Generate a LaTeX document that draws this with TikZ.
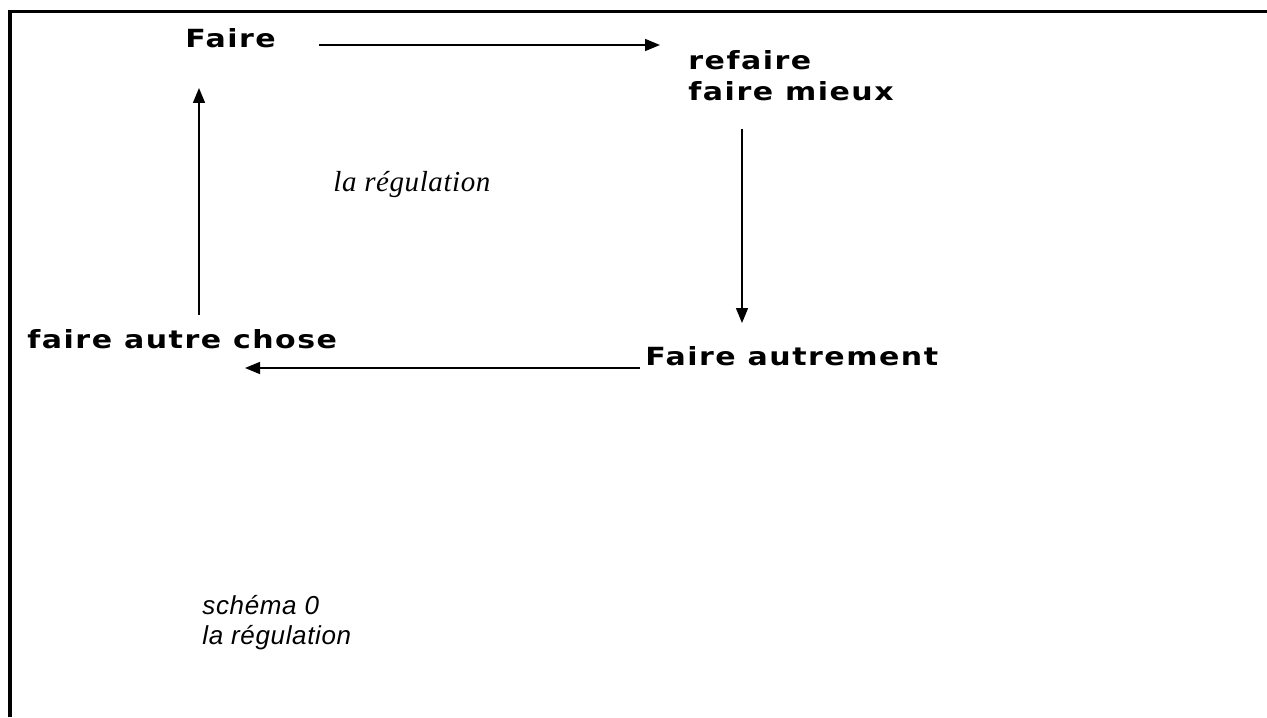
\documentclass[tikz,border=0pt]{standalone}
\usepackage{fontspec}
\setmainfont{Liberation Serif}
\newfontfamily\etapefont[FakeStretch=1.2,LetterSpace=6]{DejaVu Sans}
\newfontfamily\notefont[LetterSpace=2]{Liberation Serif}
\newfontfamily\legendefont[LetterSpace=2.5]{Liberation Sans}
\usetikzlibrary{arrows.meta}

\begin{document}
\begin{tikzpicture}[x=0.5pt,y=-0.5pt]
\tikzstyle{etape}=[font=\etapefont\bfseries\fontsize{12.5}{15}\selectfont,inner sep=0pt,anchor=base west,align=left]
\tikzstyle{fleche}=[line width=0.75pt,-{Triangle[length=7.5pt,width=6pt]}]
\tikzstyle{cadre}=[line width=1.7pt]

\useasboundingbox (0,0) rectangle (1267,717);
\draw[cadre] (10,717) -- (10,11.5) -- (1267,11.5);

\node(faire)    [etape] at (185,48) {Faire};
\node(refaire)  [etape] at (688,100) {refaire\\faire mieux};
\node(autrement)[etape] at (645,365) {Faire autrement};
\node(chose)    [etape] at (27,348) {faire autre chose};

\node(regul) [font=\notefont\itshape\fontsize{14.5}{14.5}\selectfont,inner sep=0pt,anchor=base west] at (333,191) {la régulation};

\node(legende) [font=\legendefont\itshape\fontsize{13}{15}\selectfont,inner sep=0pt,anchor=base west,align=left] at (202,644) {schéma 0\\la régulation};

\draw[fleche] ([shift={(43,-3)}]faire.base east) -- ([shift={(-28,-55)}]refaire.base west);
\draw[fleche] ([shift={(54,28)}]refaire.south west) -- ([shift={(97,-42)}]autrement.base west);
\draw[fleche] ([shift={(-5,3)}]autrement.base west) -- ([shift={(218,20)}]chose.base west);
\draw[fleche] ([shift={(172,-33)}]chose.base west) -- ([shift={(14,40)}]faire.base west);

\end{tikzpicture}
\end{document}
